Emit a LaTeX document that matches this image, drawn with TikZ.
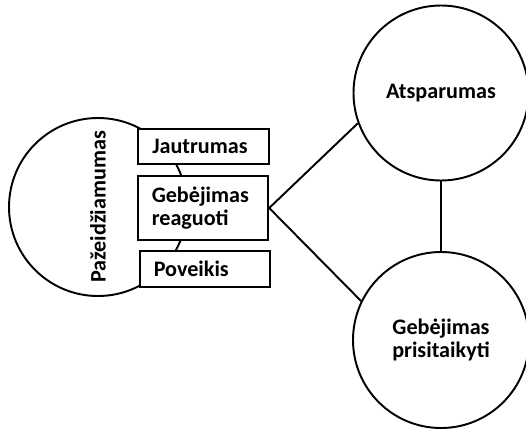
\documentclass[tikz,border=0pt]{standalone}
\usepackage{fontspec}
\setmainfont{Carlito}
\begin{document}
\begin{tikzpicture}
% Set the shared looks
\tikzset{
  ring/.style={draw, circle, line width=1.1pt, align=center, font=\fontsize{12.6}{13.4}\selectfont\bfseries},
  termbox/.style={draw, fill=white, line width=1.1pt, align=left, text width=2.05cm, inner xsep=0.28cm, font=\fontsize{12.6}{13.4}\selectfont\bfseries},
  link/.style={line width=1.1pt}
}
\useasboundingbox (0, 0) rectangle (10.52, 8.62);

% Left circle and its three boxes
\node[ring, minimum size=3.56cm, rotate=90] (pazeid) at (1.96, 4.48) {Pažeidžiamumas};
\node[termbox, minimum height=0.70cm] (jautr) at (4.07, 5.69) {Jautrumas};
\node[termbox, minimum height=1.28cm] (reag) at (4.06, 4.46) {Gebėjimas\\reaguoti};
\node[termbox, minimum height=0.72cm] (poveik) at (4.10, 3.24) {Poveikis};

% Right circles
\node[ring, minimum size=3.50cm] (atsp) at (8.82, 6.76) {Atsparumas};
\node[ring, minimum size=3.52cm] (prisit) at (8.82, 1.82) {Gebėjimas\\prisitaikyti};

% Connectors
\draw[link] (reag.east) -- (atsp.200);
\draw[link] (reag.east) -- (prisit.154);
\draw[link] (atsp.south) -- (prisit.north);
\end{tikzpicture}
\end{document}
